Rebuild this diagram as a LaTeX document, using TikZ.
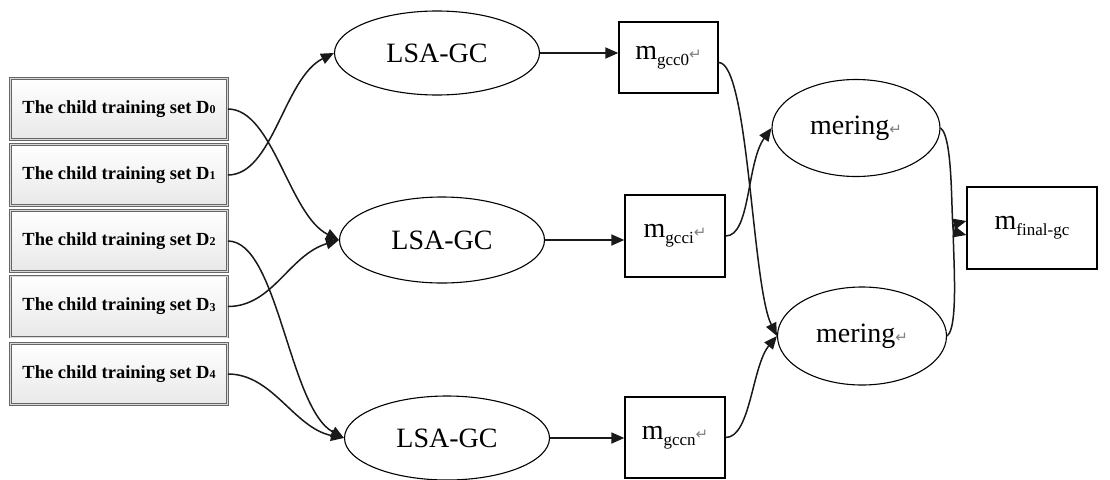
\documentclass[tikz,border=0pt]{standalone}
\usepackage{fontspec}
\setmainfont{Liberation Serif}
\newfontfamily\symfont{DejaVu Sans}
\usetikzlibrary{shapes.geometric,arrows.meta}
\newcommand\retmark{{\symfont\color{black!50}\fontsize{15}{15}\selectfont ↵}}
\newcommand\msub[1]{{\fontsize{28}{30}\selectfont m}\raisebox{-6pt}{\fontsize{17}{18}\selectfont #1}}
\newcommand\dname[1]{The child training set D\raisebox{-0.5pt}{\fontsize{12}{12}\selectfont #1}}
\begin{document}
\begin{tikzpicture}[x=1pt,y=-1pt,
  dset/.style={rectangle, draw=black!60, line width=0.8pt, double=black!15, double distance=0.8pt,
    top color=white, bottom color=black!9, minimum width=217pt, minimum height=61pt,
    inner sep=0pt, font=\fontsize{18.5}{20}\selectfont\bfseries},
  proc/.style={ellipse, draw=black, line width=1.1pt, inner sep=0pt, font=\fontsize{28}{30}\selectfont},
  mbox/.style={rectangle, draw=black, line width=1.3pt, inner sep=0pt},
  conn/.style={-{Triangle[length=13pt,width=11pt]}, line width=1.5pt, draw=black!90}]
\useasboundingbox (0,0) rectangle (1110,479);
% training sets
\node[dset] (d0) at (119,109) {\dname{0}};
\node[dset] (d1) at (119,175) {\dname{1}};
\node[dset] (d2) at (119,241) {\dname{2}};
\node[dset] (d3) at (119,306.5) {\dname{3}};
\node[dset] (d4) at (119,374) {\dname{4}};
% LSA-GC
\node[proc, minimum width=205pt, minimum height=84pt] (l1) at (437,53) {LSA-GC};
\node[proc, minimum width=205pt, minimum height=86pt] (l2) at (442,240) {LSA-GC};
\node[proc, minimum width=205pt, minimum height=84pt] (l3) at (447,438) {LSA-GC};
% model boxes
\node[mbox, minimum width=99pt, minimum height=71pt] (m0) at (668.5,57.5) {\raisebox{5pt}{\msub{gcc0}\retmark}};
\node[mbox, minimum width=100pt, minimum height=82pt] (mi) at (675,236) {\msub{gcci}\retmark};
\node[mbox, minimum width=100pt, minimum height=81pt] (mn) at (675,437.5) {\msub{gccn}\retmark};
% merging
\node[proc, minimum width=168pt, minimum height=97pt] (g1) at (856,128) {mering\retmark};
\node[proc, minimum width=169pt, minimum height=98pt] (g2) at (862,336) {mering\retmark};
% final
\node[mbox, minimum width=130pt, minimum height=82pt] (fin) at (1032,228) {\raisebox{4pt}{\msub{final-gc}}};
% connectors from training sets
\draw[conn] (d0.east) .. controls +(45,0) and +(-50,-25) .. (l2.west);
\draw[conn] (d1.east) .. controls +(45,0) and +(-50,25) .. (l1.west);
\draw[conn] (d2.east) .. controls +(50,0) and +(-55,-30) .. (l3.west);
\draw[conn] (d3.east) .. controls +(45,0) and +(-50,15) .. (l2.west);
\draw[conn] (d4.east) .. controls +(45,0) and +(-50,-10) .. (l3.west);
% LSA-GC to models
\draw[conn, line width=1.8pt] (l1.east) -- (l1.east -| m0.west);
\draw[conn, line width=1.8pt] (l2.east) -- (l2.east -| mi.west);
\draw[conn, line width=1.8pt] (l3.east) -- (l3.east -| mn.west);
% models to merging
\draw[conn] ([yshift=-5pt]m0.east) .. controls +(30,0) and +(-25,-50) .. (g2.west);
\draw[conn] (mi.east) .. controls +(25,0) and +(-25,35) .. (g1.west);
\draw[conn] (mn.east) .. controls +(25,0) and +(-25,30) .. (g2.west);
% merging to final
\draw[conn] (g1.east) .. controls +(14,10) and +(-16,-4) .. ([yshift=-7pt]fin.west);
\draw[conn] (g2.east) .. controls +(14,-10) and +(-16,4) .. ([yshift=7pt]fin.west);
\end{tikzpicture}
\end{document}
